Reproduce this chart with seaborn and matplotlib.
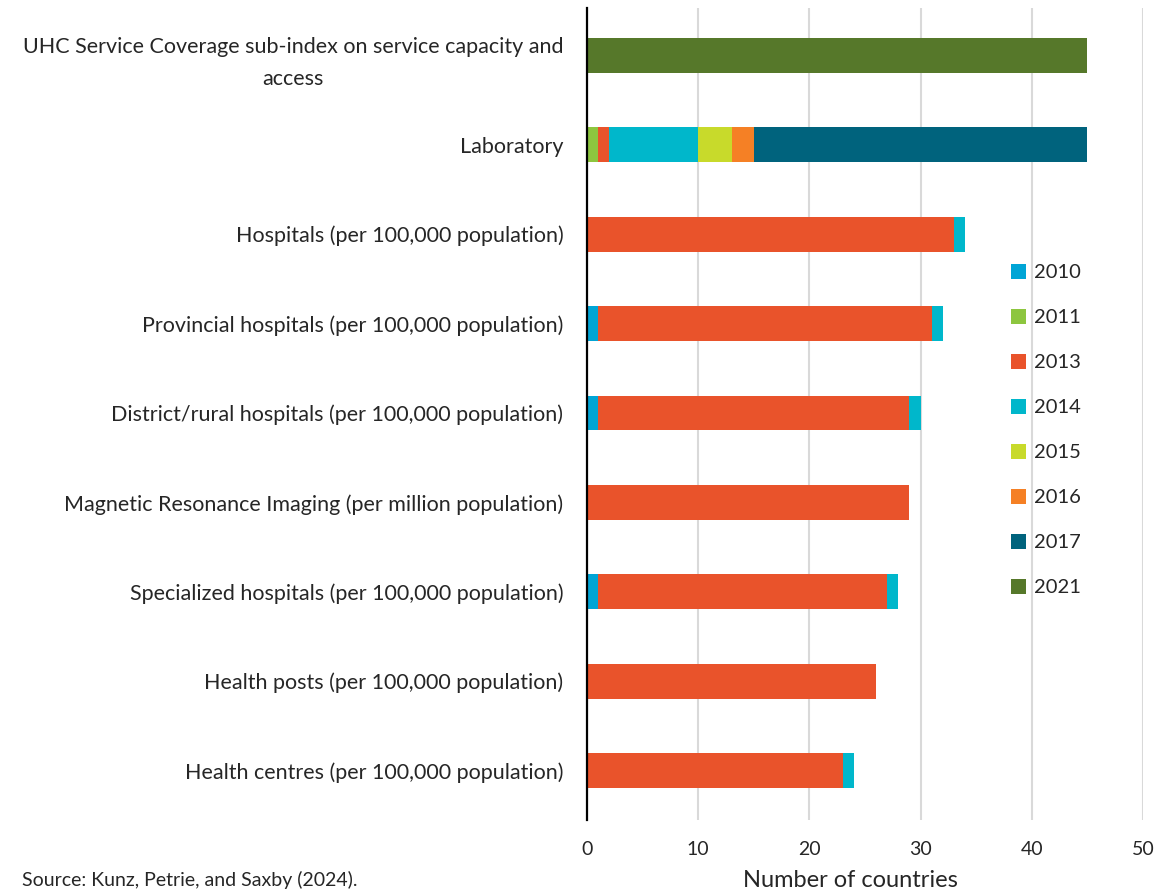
import seaborn as sns
import matplotlib.pyplot as plt
import pandas as pd
from matplotlib.patches import Patch

categories = [
    'UHC Service Coverage sub-index on service capacity and\naccess',
    'Laboratory',
    'Hospitals (per 100,000 population)',
    'Provincial hospitals (per 100,000 population)',
    'District/rural hospitals (per 100,000 population)',
    'Magnetic Resonance Imaging (per million population)',
    'Specialized hospitals (per 100,000 population)',
    'Health posts (per 100,000 population)',
    'Health centres (per 100,000 population)',
]
years = ['2010', '2011', '2013', '2014', '2015', '2016', '2017', '2021']
y2010 = [0, 0, 0, 1, 1, 0, 1, 0, 0]
y2011 = [0, 1, 0, 0, 0, 0, 0, 0, 0]
y2013 = [0, 1, 33, 30, 28, 29, 26, 26, 23]
y2014 = [0, 8, 1, 1, 1, 0, 1, 0, 1]
y2015 = [0, 3, 0, 0, 0, 0, 0, 0, 0]
y2016 = [0, 2, 0, 0, 0, 0, 0, 0, 0]
y2017 = [0, 30, 0, 0, 0, 0, 0, 0, 0]
y2021 = [45, 0, 0, 0, 0, 0, 0, 0, 0]
colors = ['#00A5D6', '#8DC63F', '#E9532B', '#00B7CB',
          '#C8DA2B', '#F58025', '#00637D', '#56782A']

df = pd.DataFrame({'category': categories, '2010': y2010, '2011': y2011,
                   '2013': y2013, '2014': y2014, '2015': y2015,
                   '2016': y2016, '2017': y2017, '2021': y2021})
cum = df[years].cumsum(axis=1)
cum['category'] = df['category']

sns.set_style('white')
plt.rcParams['font.family'] = ['Lato', 'DejaVu Sans']

fig = plt.figure(figsize=(11.58, 8.91), dpi=100)
ax = fig.add_axes([0.507, 0.080, 0.48, 0.911])

# stacked bars: draw running totals from the last year backwards
for yr, c in reversed(list(zip(years, colors))):
    sns.barplot(data=cum, y='category', x=yr, order=categories, color=c,
                orient='h', width=0.39, saturation=1, errorbar=None,
                linewidth=0, ax=ax, zorder=3)

ax.set_xlim(0, 50)
ax.set_ylim(8.55, -0.53)
ax.set_xticks(range(0, 51, 10))
ax.grid(axis='x', color='#D9D9D9', linewidth=1.5, zorder=0)
ax.set_axisbelow(True)
for s in ['top', 'right', 'bottom']:
    ax.spines[s].set_visible(False)
ax.spines['left'].set_color('black')
ax.spines['left'].set_linewidth(1.6)
ax.spines['left'].set_zorder(5)
ax.tick_params(axis='x', length=0, labelsize=14, pad=15)
ax.tick_params(axis='y', length=0, labelsize=15.5, pad=17)
for lab in ax.get_yticklabels():
    lab.set_multialignment('center')
    lab.set_linespacing(1.75)
ax.set_xlabel('')
ax.set_ylabel('')

handles = [Patch(facecolor=c, edgecolor='none') for c in colors]
fig.legend(handles, years, loc='upper left', bbox_to_anchor=(0.857, 0.724),
           frameon=False, fontsize=14.5, handlelength=0.75, handleheight=0.75,
           handletextpad=0.4, labelspacing=1.37)

fig.text(0.734, 0.0, 'Number of countries', ha='center', va='bottom', fontsize=17)
fig.text(0.019, 0.002, 'Source: Kunz, Petrie, and Saxby (2024).', ha='left',
         va='bottom', fontsize=14)

fig.savefig('out.png', dpi=100)
